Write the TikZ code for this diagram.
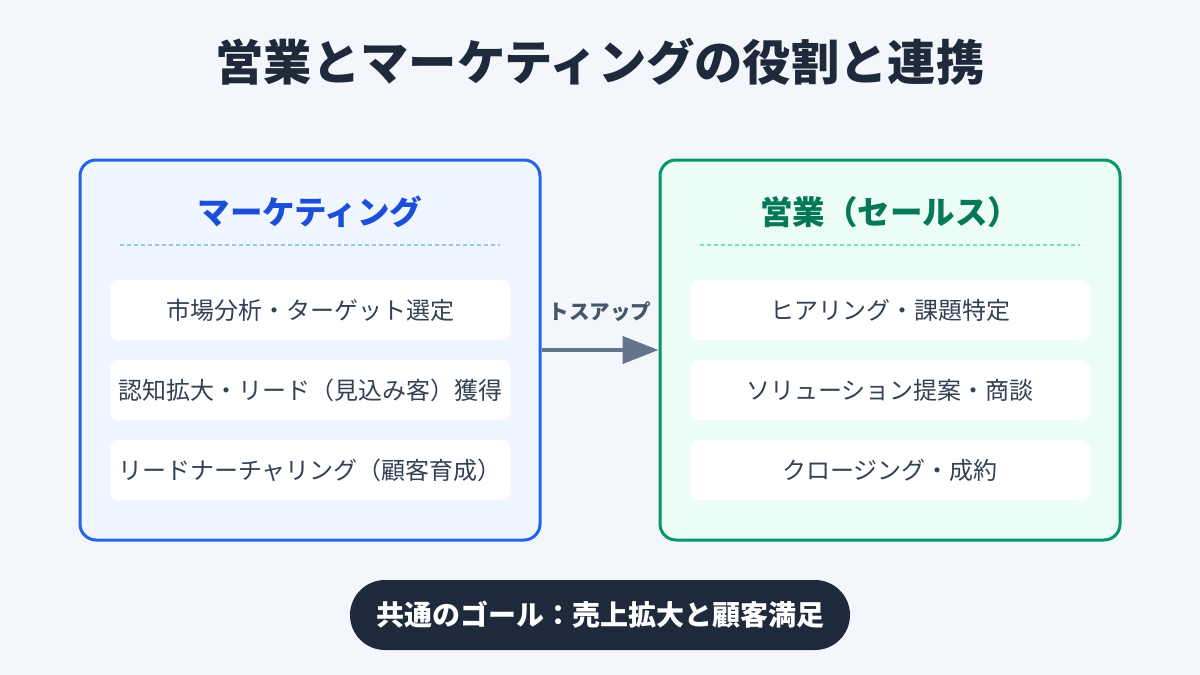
\documentclass[tikz,border=0pt]{standalone}
\usepackage{fontspec}
\setmainfont{Noto Sans CJK JP}
\usepackage{xcolor}
\usetikzlibrary{arrows.meta,positioning}

\definecolor{bgcol}{HTML}{F3F6FA}
\definecolor{titlecol}{HTML}{1E293B}
\definecolor{mkline}{HTML}{2563EB}
\definecolor{mkfill}{HTML}{EFF6FF}
\definecolor{mkhead}{HTML}{1D4ED8}
\definecolor{mkdash}{HTML}{93C5FD}
\definecolor{slline}{HTML}{059669}
\definecolor{slfill}{HTML}{ECFDF5}
\definecolor{slhead}{HTML}{047857}
\definecolor{sldash}{HTML}{6EE7B7}
\definecolor{itemtxt}{HTML}{334155}
\definecolor{arrowcol}{HTML}{64748B}
\definecolor{tosscol}{HTML}{475569}

\begin{document}
\begin{tikzpicture}[x=1pt,y=-1pt,
  panel/.style={draw, line width=3pt, rounded corners=16pt, minimum width=460pt, minimum height=380pt},
  item/.style={fill=white, rounded corners=8pt, minimum width=400pt, minimum height=60pt, text=itemtxt, font=\fontsize{24}{27}\selectfont},
  head/.style={font=\fontsize{32.5}{36}\selectfont\bfseries},
  sep/.style={line width=1.5pt, dash pattern=on 4pt off 3pt}]

\fill[bgcol] (0,0) rectangle (1200,675);
\useasboundingbox (0,0) rectangle (1200,675);

\node[text=titlecol, font=\fontsize{48.3}{52}\selectfont\bfseries] (title) at (600,62) {営業とマーケティングの役割と連携};

% marketing
\node[panel, draw=mkline, fill=mkfill] (mk) at (310,350) {};
\node[head, text=mkhead] (mkh) at (310,212) {マーケティング};
\draw[sep, mkdash] (120,245) -- (500,245);
\node[item] (mk1) at (310,310) {市場分析・ターゲット選定};
\node[item] (mk2) at (310,390) {認知拡大・リード（見込み客）獲得};
\node[item] (mk3) at (310,470) {リードナーチャリング（顧客育成）};

% sales
\node[panel, draw=slline, fill=slfill] (sl) at (890,350) {};
\node[head, text=slhead] (slh) at (890,212) {営業（セールス）};
\draw[sep, sldash] (700,245) -- (1080,245);
\node[item] (sl1) at (890,310) {ヒアリング・課題特定};
\node[item] (sl2) at (890,390) {ソリューション提案・商談};
\node[item] (sl3) at (890,470) {クロージング・成約};

% handoff
\draw[arrowcol, line width=4pt, -{Triangle[length=36pt, width=27pt]}] (mk.east) -- (sl.west);
\node[text=tosscol, font=\fontsize{20.5}{23}\selectfont\bfseries] (toss) at (600,312) {トスアップ};

% goal
\node[fill=titlecol, rounded corners=35pt, minimum width=500pt, minimum height=70pt, text=white, font=\fontsize{28}{31}\selectfont\bfseries] (goal) at (600,615) {共通のゴール：売上拡大と顧客満足};
\end{tikzpicture}
\end{document}
